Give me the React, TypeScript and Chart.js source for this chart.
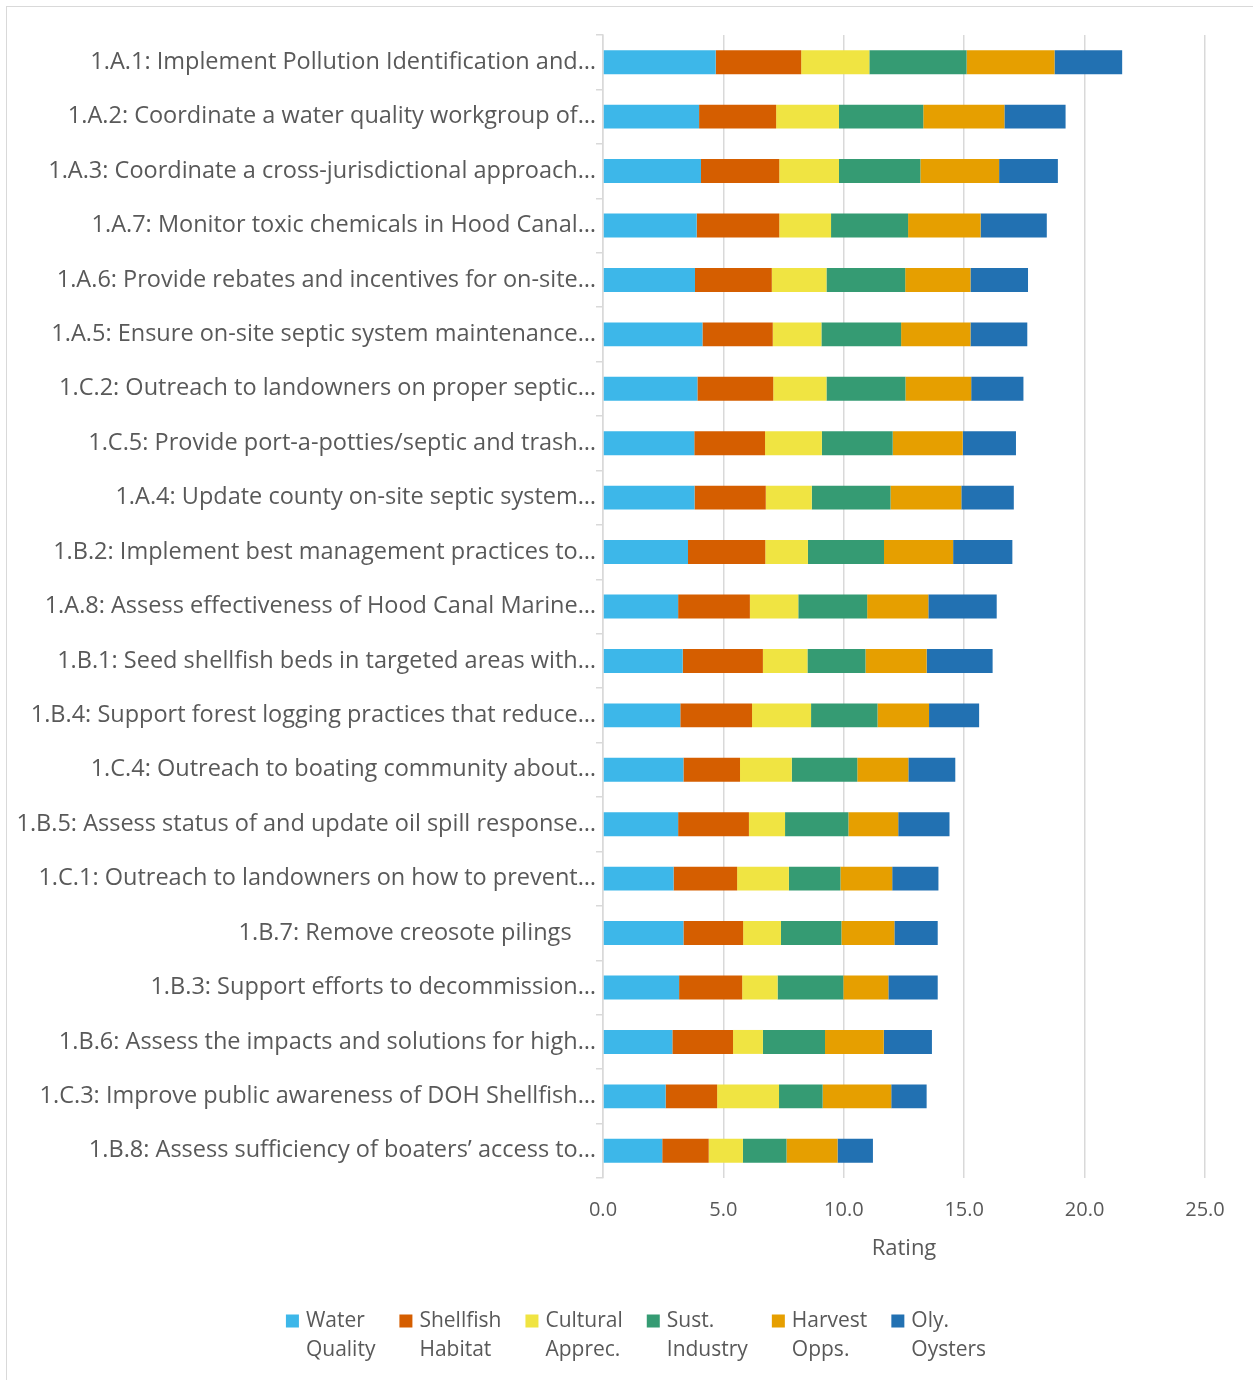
import React, { useEffect, useRef } from "react";
import { Chart, registerables } from "chart.js";

Chart.register(...registerables);

const categories = [
  "1.A.1: Implement Pollution Identification and…",
  "1.A.2: Coordinate a water quality workgroup of…",
  "1.A.3: Coordinate a cross-jurisdictional approach…",
  "1.A.7: Monitor toxic chemicals in Hood Canal…",
  "1.A.6: Provide rebates and incentives for on-site…",
  "1.A.5: Ensure on-site septic system maintenance…",
  "1.C.2: Outreach to landowners on proper septic…",
  "1.C.5: Provide port-a-potties/septic and trash…",
  "1.A.4: Update county on-site septic system…",
  "1.B.2: Implement best management practices to…",
  "1.A.8: Assess effectiveness of Hood Canal Marine…",
  "1.B.1: Seed shellfish beds in targeted areas with…",
  "1.B.4: Support forest logging practices that reduce…",
  "1.C.4: Outreach to boating community about…",
  "1.B.5: Assess status of and update oil spill response…",
  "1.C.1: Outreach to landowners on how to prevent…",
  "1.B.7: Remove creosote pilings    ",
  "1.B.3: Support efforts to decommission…",
  "1.B.6: Assess the impacts and solutions for high…",
  "1.C.3: Improve public awareness of DOH Shellfish…",
  "1.B.8: Assess sufficiency of boaters’ access to…",
];

const seriesNames = [
  "Water Quality",
  "Shellfish Habitat",
  "Cultural Apprec.",
  "Sust. Industry",
  "Harvest Opps.",
  "Oly. Oysters",
];

const waterQuality = [4.68, 3.99, 4.07, 3.89, 3.82, 4.13, 3.92, 3.79, 3.8, 3.53, 3.12, 3.31, 3.21, 3.34, 3.12, 2.93, 3.34, 3.16, 2.88, 2.6, 2.46];
const shellfishHabitat = [3.55, 3.2, 3.25, 3.43, 3.19, 2.92, 3.15, 2.94, 2.96, 3.21, 2.98, 3.33, 2.98, 2.35, 2.94, 2.64, 2.48, 2.62, 2.52, 2.14, 1.93];
const culturalApprec = [2.83, 2.61, 2.48, 2.15, 2.27, 2.02, 2.21, 2.36, 1.91, 1.77, 2.01, 1.85, 2.45, 2.15, 1.5, 2.15, 1.57, 1.47, 1.24, 2.57, 1.42];
const sustIndustry = [4.04, 3.5, 3.38, 3.2, 3.27, 3.31, 3.28, 2.94, 3.27, 3.16, 2.86, 2.41, 2.76, 2.72, 2.63, 2.14, 2.51, 2.73, 2.58, 1.81, 1.81];
const harvestOpps = [3.65, 3.37, 3.27, 3.01, 2.71, 2.88, 2.73, 2.91, 2.94, 2.87, 2.54, 2.54, 2.14, 2.12, 2.07, 2.15, 2.2, 1.87, 2.44, 2.85, 2.12];
const olyOysters = [2.81, 2.54, 2.44, 2.75, 2.39, 2.36, 2.17, 2.21, 2.18, 2.46, 2.84, 2.74, 2.08, 1.95, 2.13, 1.92, 1.8, 2.05, 2.0, 1.47, 1.47];

const seriesValues = [waterQuality, shellfishHabitat, culturalApprec, sustIndustry, harvestOpps, olyOysters];
const seriesColors = ["#3DB7E9", "#D55E00", "#F0E442", "#359B73", "#E69F00", "#2271B2"];

const xTickValues = [0, 5, 10, 15, 20, 25];

const FONT = "'Open Sans'";
const TEXT_COLOR = "#595959";
const GRID_COLOR = "#d9d9d9";

const legendPlugin = {
  id: "twoLineLegend",
  afterDraw(chart: any) {
    const ctx = chart.ctx as CanvasRenderingContext2D;
    ctx.save();
    ctx.font = `21px ${FONT}`;
    ctx.textBaseline = "middle";
    ctx.textAlign = "left";
    const items = chart.data.datasets.map((ds: any) => {
      const label: string = ds.label;
      const i = label.indexOf(" ");
      const lines = i > 0 ? [label.slice(0, i), label.slice(i + 1)] : [label];
      const w = Math.max(...lines.map((l: string) => ctx.measureText(l).width));
      return { lines, w, color: ds.backgroundColor };
    });
    const box = 13;
    const textOffset = 20;
    const gap = 24;
    const total = items.reduce((s: number, it: any) => s + textOffset + it.w, 0) + gap * (items.length - 1);
    let x = chart.width / 2 + 6 - total / 2;
    const y1 = chart.height - 59;
    const lineH = 29;
    for (const it of items) {
      ctx.fillStyle = it.color;
      ctx.fillRect(x, y1 - box / 2, box, box);
      ctx.fillStyle = TEXT_COLOR;
      it.lines.forEach((l: string, k: number) => ctx.fillText(l, x + textOffset, y1 + k * lineH));
      x += textOffset + it.w + gap;
    }
    ctx.restore();
  },
};

export default function App() {
  const canvasRef = useRef<HTMLCanvasElement | null>(null);

  useEffect(() => {
    if (!canvasRef.current) return;
    const chart = new Chart(canvasRef.current, {
      type: "bar",
      data: {
        labels: categories,
        datasets: seriesNames.map((name, i) => ({
          label: name,
          data: seriesValues[i],
          backgroundColor: seriesColors[i],
          borderWidth: 0,
          barPercentage: 0.44,
          categoryPercentage: 1,
        })),
      },
      plugins: [legendPlugin],
      options: {
        indexAxis: "y",
        animation: false,
        responsive: true,
        maintainAspectRatio: false,
        layout: { padding: { left: 0, top: 28, right: 48, bottom: 102 } },
        plugins: {
          legend: { display: false },
          tooltip: { enabled: false },
        },
        scales: {
          x: {
            stacked: true,
            min: 0,
            max: 25,
            afterBuildTicks: (scale: any) => {
              scale.ticks = xTickValues.map((v) => ({ value: v }));
            },
            afterFit: (scale: any) => {
              scale.height = 100;
            },
            ticks: {
              padding: 20,
              color: TEXT_COLOR,
              font: { family: FONT, size: 20 },
              callback: (v: any) => Number(v).toFixed(1),
            },
            grid: { color: GRID_COLOR, lineWidth: 1.5, drawTicks: false },
            border: { display: false },
            title: {
              display: true,
              text: "Rating",
              color: TEXT_COLOR,
              font: { family: FONT, size: 22 },
              padding: { top: 0, bottom: 16 },
            },
          },
          y: {
            stacked: true,
            afterFit: (scale: any) => {
              scale.width = 596;
            },
            ticks: {
              padding: 0,
              color: TEXT_COLOR,
              font: { family: FONT, size: 23.5 },
              autoSkip: false,
            },
            grid: {
              color: GRID_COLOR,
              lineWidth: 1.5,
              drawOnChartArea: false,
              drawTicks: true,
              tickLength: 7,
            },
            border: { display: true, color: GRID_COLOR, width: 1.5 },
          },
        },
      },
    });
    return () => chart.destroy();
  }, []);

  return (
    <div
      style={{
        position: "absolute",
        left: 6,
        top: 6,
        width: 1247,
        height: 1374,
        borderLeft: `1px solid ${GRID_COLOR}`,
        borderTop: `1px solid ${GRID_COLOR}`,
        boxSizing: "border-box",
        background: "#fff",
      }}
    >
      <canvas ref={canvasRef} />
    </div>
  );
}
